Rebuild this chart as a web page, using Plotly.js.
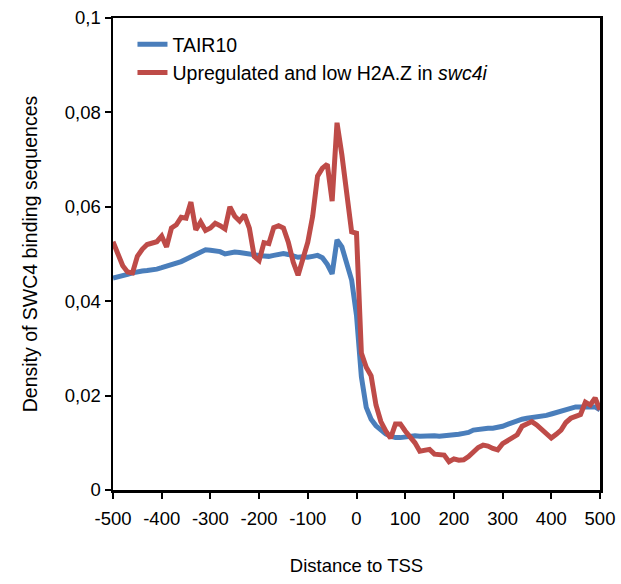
<!DOCTYPE html>
<html>
<head>
<meta charset="utf-8">
<script src="https://cdn.plot.ly/plotly-3.0.1.min.js"></script>
<style>html,body{margin:0;padding:0;background:#fff;}#chart{width:621px;height:584px;}</style>
</head>
<body>
<div id="chart"></div>
<script>
const distance = [-500,-490,-480,-470,-460,-450,-440,-430,-420,-410,-400,-390,-380,-370,-360,-350,-340,-330,-320,-310,-300,-290,-280,-270,-260,-250,-240,-230,-220,-210,-200,-190,-180,-170,-160,-150,-140,-130,-120,-110,-100,-90,-80,-70,-60,-50,-40,-30,-20,-10,0,10,20,30,40,50,60,70,80,90,100,110,120,130,140,150,160,170,180,190,200,210,220,230,240,250,260,270,280,290,300,310,320,330,340,350,360,370,380,390,400,410,420,430,440,450,460,470,480,490,500];

const tair10 = [0.0449,0.0451,0.0454,0.0457,0.0460,0.0463,0.0464,0.0465,0.0466,0.0468,0.0471,0.0474,0.0477,0.0480,0.0484,0.0489,0.0494,0.0499,0.0505,0.0509,0.0508,0.0506,0.0505,0.0500,0.0503,0.0504,0.0503,0.0501,0.0499,0.0497,0.0497,0.0496,0.0495,0.0497,0.0500,0.0501,0.0499,0.0495,0.0493,0.0494,0.0493,0.0495,0.0497,0.0492,0.0478,0.0458,0.0530,0.0515,0.0480,0.0445,0.0370,0.0240,0.0175,0.0150,0.0136,0.0126,0.0119,0.0114,0.0111,0.0111,0.0113,0.0115,0.0115,0.0114,0.0115,0.0114,0.0115,0.0114,0.0115,0.0114,0.0116,0.0118,0.0120,0.0122,0.0127,0.0129,0.0131,0.0131,0.0131,0.0132,0.0135,0.0139,0.0143,0.0147,0.0150,0.0152,0.0153,0.0154,0.0155,0.0158,0.0161,0.0164,0.0167,0.0170,0.0173,0.0176,0.0176,0.0177,0.0176,0.0176,0.0170];

const upregulated = [0.0526,0.0500,0.0475,0.0462,0.0460,0.0495,0.0510,0.0520,0.0524,0.0526,0.0538,0.0515,0.0555,0.0562,0.0578,0.0576,0.0610,0.0551,0.0568,0.0550,0.0555,0.0565,0.0560,0.0553,0.0600,0.0580,0.0570,0.0583,0.0555,0.0495,0.0486,0.0524,0.0522,0.0556,0.0560,0.0555,0.0525,0.0483,0.0455,0.0490,0.0525,0.0580,0.0665,0.0682,0.0690,0.0612,0.0778,0.0710,0.0625,0.0547,0.0544,0.0290,0.0260,0.0242,0.0180,0.0145,0.0125,0.0110,0.0140,0.0140,0.0125,0.0112,0.0100,0.0082,0.0083,0.0086,0.0076,0.0075,0.0074,0.0060,0.0066,0.0063,0.0064,0.0071,0.0082,0.0090,0.0095,0.0093,0.0088,0.0085,0.0098,0.0105,0.0110,0.0117,0.0135,0.0140,0.0145,0.0138,0.0129,0.0120,0.0110,0.0118,0.0127,0.0143,0.0152,0.0156,0.0160,0.0186,0.0180,0.0195,0.0170];

const seriesNames = ['TAIR10', 'Upregulated and low H2A.Z in <i>swc4i</i>'];
const xTicks = [-500,-400,-300,-200,-100,0,100,200,300,400,500];
const yTicks = [0,0.02,0.04,0.06,0.08,0.1];
const yTickText = ['0','0,02','0,04','0,06','0,08','0,1'];

const data = [
  {x: distance, y: tair10, name: seriesNames[0], type: 'scatter', mode: 'lines',
   line: {color: '#4A7EBB', width: 5}},
  {x: distance, y: upregulated, name: seriesNames[1], type: 'scatter', mode: 'lines',
   line: {color: '#BE4B48', width: 5}}
];

const layout = {
  width: 621, height: 584,
  margin: {l: 113, r: 21, t: 18, b: 94},
  paper_bgcolor: '#fff', plot_bgcolor: '#fff',
  font: {family: 'Liberation Sans, Arial, sans-serif', size: 18.5, color: '#000'},
  showlegend: true,
  legend: {x: 0.04, y: 0.985, xanchor: 'left', yanchor: 'top', bgcolor: 'rgba(0,0,0,0)',
           font: {size: 19.5}, tracegroupgap: 0},
  xaxis: {
    range: [-500, 500], tickvals: xTicks, ticktext: xTicks.map(String),
    showgrid: false, zeroline: false, showline: true, linecolor: '#000', linewidth: 2.5,
    mirror: true, ticks: 'outside', ticklen: 6, tickwidth: 2, tickcolor: '#000',
    tickfont: {size: 18.5}, ticklabelstandoff: 4,
    title: {text: 'Distance to TSS', font: {size: 18.5}, standoff: 32}
  },
  yaxis: {
    range: [0, 0.1], tickvals: yTicks, ticktext: yTickText,
    showgrid: false, zeroline: false, showline: true, linecolor: '#000', linewidth: 2.5,
    mirror: true, ticks: 'outside', ticklen: 6, tickwidth: 2, tickcolor: '#000',
    tickfont: {size: 18.5},
    title: {text: 'Density of SWC4 binding sequences', font: {size: 19.5}, standoff: 22}
  }
};

Plotly.newPlot('chart', data, layout, {displayModeBar: false, staticPlot: true});
</script>
</body>
</html>
